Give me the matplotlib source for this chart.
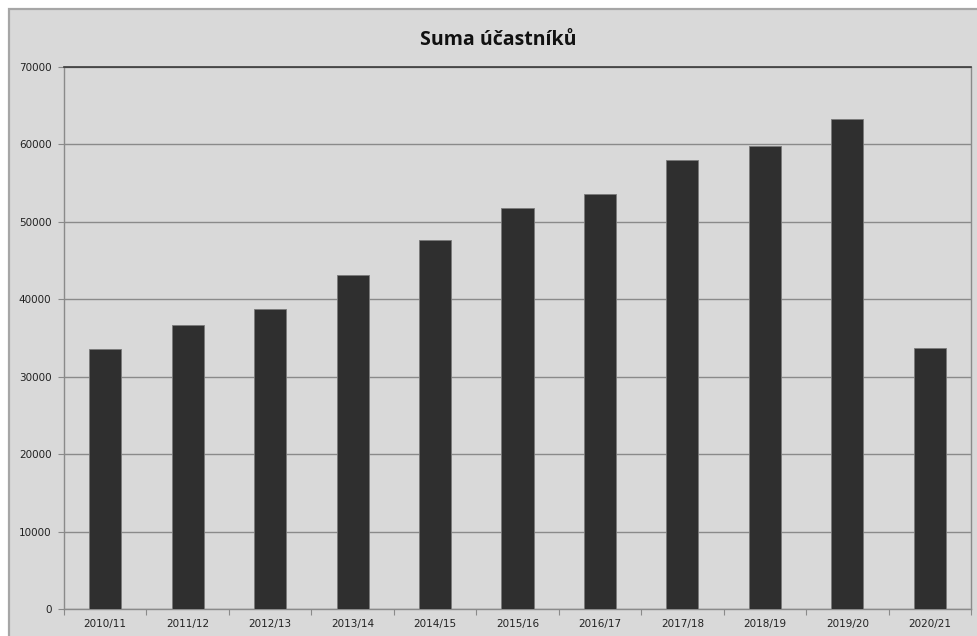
import matplotlib
matplotlib.use("Agg")
import matplotlib.pyplot as plt
import numpy as np
from matplotlib.patches import Rectangle

seasons = ["2010/11", "2011/12", "2012/13", "2013/14", "2014/15", "2015/16",
           "2016/17", "2017/18", "2018/19", "2019/20", "2020/21"]
participants = [33580, 36680, 38740, 43140, 47660, 51830,
                53600, 57990, 59840, 63320, 33710]

BG = "#d9d9d9"
GRID = "#8a8a8a"

fig = plt.figure(figsize=(9.77, 6.36), dpi=100)
fig.patch.set_facecolor("white")

# chart-area panel with grey frame (extends past the right/bottom edge)
fig.patches.append(Rectangle((9 / 977, -0.05), 1.05, 1 - 9 / 636 + 0.05,
                             transform=fig.transFigure, facecolor=BG,
                             edgecolor="#a6a6a6", lw=1.6, zorder=-5))

ax = fig.add_axes([64 / 977, 27 / 636, (971 - 64) / 977, (609 - 67) / 636])
ax.set_facecolor(BG)

x = np.arange(len(seasons))
ax.bar(x, participants, width=0.39, color="#2f2f2f", edgecolor="#7a7a7a",
       linewidth=0.6, zorder=3)

ax.set_xlim(-0.5, len(seasons) - 0.5)
ax.set_ylim(0, 70000)
ax.set_yticks(np.arange(0, 70001, 10000))
ax.yaxis.grid(True, color=GRID, lw=1.0, zorder=1)

# category ticks sit on the boundaries, labels in the middle
ax.set_xticks(np.arange(-0.5, len(seasons), 1.0))
ax.set_xticklabels([])
ax.set_xticks(x, minor=True)
ax.set_xticklabels(seasons, minor=True)
ax.tick_params(axis="x", which="minor", length=0, pad=7, labelsize=7.5, labelcolor="#222222")
ax.tick_params(axis="x", which="major", length=4, color=GRID, direction="out")
ax.tick_params(axis="y", length=4, color=GRID, direction="out", pad=5,
               labelsize=7.5, labelcolor="#222222")

for s in ["left", "bottom", "right"]:
    ax.spines[s].set_color(GRID)
    ax.spines[s].set_linewidth(1.0)
ax.spines["top"].set_color("#3a3a3a")
ax.spines["top"].set_linewidth(1.2)

fig.text(498 / 977, 1 - 40 / 636, "Suma účastníků", ha="center", va="center",
         fontsize=14, fontweight="bold", family="Open Sans", color="#111111")

fig.savefig("out.png", dpi=100, facecolor="white")
